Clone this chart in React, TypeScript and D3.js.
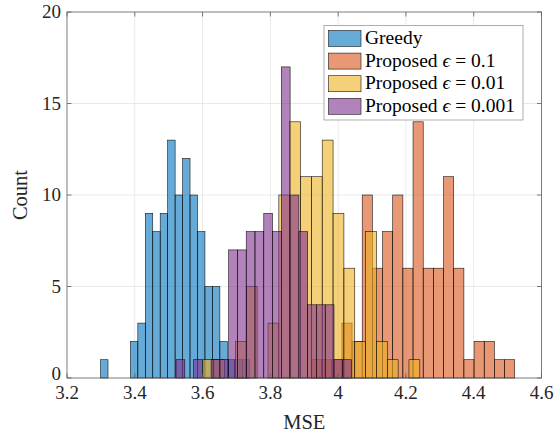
import React from 'react';
import * as d3 from 'd3';

// histogram bins: first edge, bin width, counts per bin
const greedyStart = 3.299;
const greedyWidth = 0.022;
const greedyCounts = [1, 0, 0, 0, 2, 3, 9, 8, 9, 13, 10, 12, 10, 8, 5, 5, 2, 1, 1, 1];

const eps1Start = 3.921;
const eps1Width = 0.03;
const eps1Counts = [1, 1, 1, 3, 2, 10, 6, 8, 10, 6, 14, 6, 6, 11, 6, 1, 2, 2, 1, 1];

const eps2Start = 3.601;
const eps2Width = 0.032;
const eps2Counts = [1, 1, 0, 2, 5, 0, 3, 10, 14, 11, 11, 13, 9, 6, 2, 8, 2, 1, 0, 1];

const eps3Start = 3.5216;
const eps3Width = 0.0259;
const eps3Counts = [1, 0, 1, 0, 1, 1, 7, 7, 8, 8, 9, 8, 17, 10, 8, 4, 4, 4, 1, 1];

const xTicks = [3.2, 3.4, 3.6, 3.8, 4.0, 4.2, 4.4, 4.6];
const xTickLabels = ['3.2', '3.4', '3.6', '3.8', '4', '4.2', '4.4', '4.6'];
const yTicks = [0, 5, 10, 15, 20];

const seriesNames = ['Greedy', 'Proposed', 'Proposed', 'Proposed'];
const seriesEps = ['', '0.1', '0.01', '0.001'];
const seriesColors = ['#0072BD', '#D95319', '#EDB120', '#7E2F8E'];

const FONT = "'Liberation Serif', 'Times New Roman', Times, serif";

export default function App() {
  const width = 554;
  const height = 435;
  const left = 67, right = 541.5, top = 12, bottom = 378;

  const x = d3.scaleLinear().domain([3.2, 4.6]).range([left, right]);
  const y = d3.scaleLinear().domain([0, 20]).range([bottom, top]);

  const series = [
    { start: greedyStart, w: greedyWidth, counts: greedyCounts },
    { start: eps1Start, w: eps1Width, counts: eps1Counts },
    { start: eps2Start, w: eps2Width, counts: eps2Counts },
    { start: eps3Start, w: eps3Width, counts: eps3Counts },
  ];

  const gridColor = '#e0e0e0';
  const axisColor = '#5a5a5a';

  // legend box
  const lg = { x: 324, y: 25.5, w: 199, h: 94.5 };
  const rowH = 22.6;

  return (
    <div style={{ position: 'absolute', left: 0, top: 0 }}>
      <svg width={width} height={height} style={{ display: 'block', background: '#fff', fontFamily: FONT }}>
        {/* grid */}
        <g stroke={gridColor} strokeWidth={0.7}>
          {xTicks.slice(1, -1).map(t => (
            <line key={'gx' + t} x1={x(t)} x2={x(t)} y1={top} y2={bottom} />
          ))}
          {yTicks.slice(1, -1).map(t => (
            <line key={'gy' + t} x1={left} x2={right} y1={y(t)} y2={y(t)} />
          ))}
        </g>

        {/* bars */}
        {series.map((s, si) => (
          <g key={'s' + si} fill={seriesColors[si]} fillOpacity={0.6} stroke="#000" strokeWidth={0.6} strokeOpacity={0.9}>
            {s.counts.map((c, i) => {
              if (c <= 0) return null;
              const e0 = s.start + i * s.w;
              const x0 = x(e0);
              const x1 = x(e0 + s.w);
              return <rect key={i} x={x0} y={y(c)} width={x1 - x0} height={y(0) - y(c)} />;
            })}
          </g>
        ))}

        {/* axis box */}
        <rect x={left} y={top} width={right - left} height={bottom - top} fill="none" stroke={axisColor} strokeWidth={0.8} />

        {/* ticks */}
        <g stroke={axisColor} strokeWidth={0.8}>
          {xTicks.map(t => (
            <g key={'tx' + t}>
              <line x1={x(t)} x2={x(t)} y1={bottom} y2={bottom - 4.5} />
              <line x1={x(t)} x2={x(t)} y1={top} y2={top + 4.5} />
            </g>
          ))}
          {yTicks.map(t => (
            <g key={'ty' + t}>
              <line x1={left} x2={left + 4.5} y1={y(t)} y2={y(t)} />
              <line x1={right} x2={right - 4.5} y1={y(t)} y2={y(t)} />
            </g>
          ))}
        </g>

        {/* tick labels */}
        <g fontSize={19} fill="#262626">
          {xTicks.map((t, i) => (
            <text key={'lx' + t} x={x(t)} y={bottom + 20.5} textAnchor="middle">{xTickLabels[i]}</text>
          ))}
          {yTicks.map(t => (
            <text key={'ly' + t} x={left - 6} y={y(t) + (t === 0 ? 1.5 : 6)} textAnchor="end">{t}</text>
          ))}
        </g>

        {/* axis labels */}
        <text x={(left + right) / 2} y={429} textAnchor="middle" fontSize={20.5} fill="#262626">MSE</text>
        <text transform={`translate(27,${(top + bottom) / 2}) rotate(-90)`} textAnchor="middle" fontSize={20.5} fill="#262626">Count</text>

        {/* legend */}
        <g>
          <rect x={lg.x} y={lg.y} width={lg.w} height={lg.h} fill="#fff" stroke="#9a9a9a" strokeWidth={0.8} />
          {seriesNames.map((name, i) => {
            const cy = lg.y + 13 + i * rowH;
            return (
              <g key={'lg' + i}>
                <rect x={lg.x + 4.5} y={cy - 8} width={32.5} height={16} fill={seriesColors[i]} fillOpacity={0.6} stroke="#000" strokeWidth={0.6} strokeOpacity={0.9} />
                <text x={lg.x + 41} y={cy + 5.5} fontSize={19.5} fill="#000">
                  {name}
                  {seriesEps[i] && (
                    <>
                      <tspan fontStyle="italic">{' ϵ'}</tspan>
                      <tspan>{' = ' + seriesEps[i]}</tspan>
                    </>
                  )}
                </text>
              </g>
            );
          })}
        </g>
      </svg>
    </div>
  );
}
